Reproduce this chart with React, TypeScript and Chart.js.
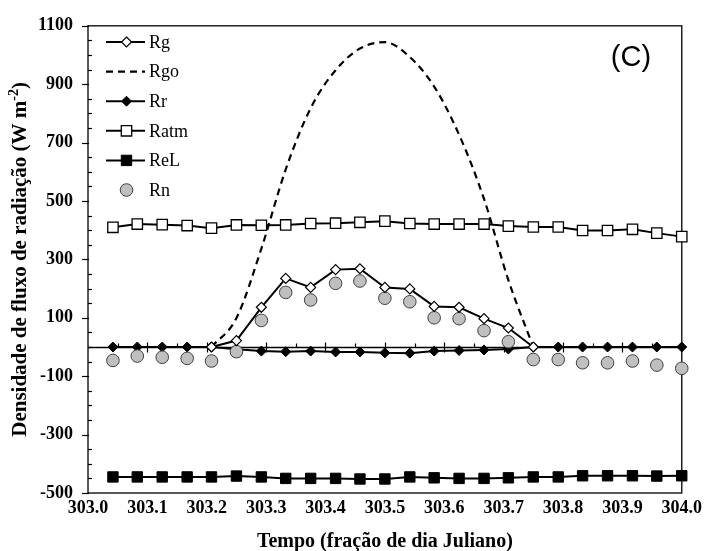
import { useEffect, useRef } from 'react';
import { Chart, registerables } from 'chart.js';

Chart.register(...registerables);

const times = [
  303.042, 303.083, 303.125, 303.167, 303.208, 303.25, 303.292, 303.333,
  303.375, 303.417, 303.458, 303.5, 303.542, 303.583, 303.625, 303.667,
  303.708, 303.75, 303.792, 303.833, 303.875, 303.917, 303.958, 304.0,
];

const Rg = [null, null, null, null, 0, 22, 136, 235, 204, 265, 268, 204, 199, 139, 136, 97, 65, 0, null, null, null, null, null, null];
const Rgo = [null, null, null, null, 0, 99, 337, 608, 818, 948, 1022, 1044, 993, 892, 727, 507, 229, 0, null, null, null, null, null, null];
const Rr = [0, 0, 0, 0, 0, -8, -14, -16, -14, -17, -17, -20, -21, -14, -12, -10, -7, 0, 0, 0, 0, 0, 0, 0];
const Ratm = [410, 421, 419, 416, 407, 418, 417, 418, 423, 424, 427, 431, 423, 421, 421, 421, 414, 411, 411, 399, 399, 403, 390, 378];
const ReL = [-445, -445, -445, -445, -445, -442, -445, -450, -450, -450, -452, -452, -445, -448, -450, -450, -448, -445, -445, -441, -441, -441, -442, -441];
const Rn = [-46, -31, -35, -39, -48, -16, 91, 187, 161, 218, 226, 167, 155, 100, 97, 56, 18, -43, -43, -54, -54, -48, -62, -73];

const seriesNames = ['Rg', 'Rgo', 'Rr', 'Ratm', 'ReL', 'Rn'];
const yTickLabels = [-500, -300, -100, 100, 300, 500, 700, 900, 1100];
const xTitle = 'Tempo (fração de dia Juliano)';
const yTitleMain = 'Densidade de fluxo de radiação (W m';
const yTitleSup = '-2';
const yTitleEnd = ')';
const panelLabel = '(C)';

const SERIF = '"Liberation Serif", "Times New Roman", serif';
const SANS = '"Liberation Sans", Arial, sans-serif';

const pts = (arr: (number | null)[]) => times.map((t, i) => ({ x: t, y: arr[i] }));

type Mk = { style: string; r: number; fill: string; stroke: string; bw: number; line: boolean; dash?: number[] };
const markers: Record<string, Mk> = {
  Rg: { style: 'diamond', r: 5, fill: '#fff', stroke: '#000', bw: 1.2, line: true },
  Rgo: { style: 'none', r: 0, fill: '#000', stroke: '#000', bw: 0, line: true, dash: [7, 5] },
  Rr: { style: 'diamond', r: 5, fill: '#000', stroke: '#000', bw: 1, line: true },
  Ratm: { style: 'square', r: 5.2, fill: '#fff', stroke: '#000', bw: 1.3, line: true },
  ReL: { style: 'square', r: 5.2, fill: '#000', stroke: '#000', bw: 1, line: true },
  Rn: { style: 'circle', r: 6.3, fill: '#bfbfbf', stroke: '#404040', bw: 1, line: false },
};

function drawMarker(ctx: CanvasRenderingContext2D, m: Mk, x: number, y: number) {
  if (m.style === 'none') return;
  ctx.save();
  ctx.beginPath();
  if (m.style === 'diamond') {
    ctx.moveTo(x, y - m.r);
    ctx.lineTo(x + m.r, y);
    ctx.lineTo(x, y + m.r);
    ctx.lineTo(x - m.r, y);
    ctx.closePath();
  } else if (m.style === 'square') {
    ctx.rect(x - m.r, y - m.r, 2 * m.r, 2 * m.r);
  } else {
    ctx.arc(x, y, m.r, 0, Math.PI * 2);
  }
  ctx.fillStyle = m.fill;
  ctx.fill();
  ctx.lineWidth = m.bw;
  ctx.strokeStyle = m.stroke;
  ctx.stroke();
  ctx.restore();
}

const decorPlugin = {
  id: 'decor',
  beforeDatasetsDraw(chart: any) {
    const { ctx, chartArea: a, scales } = chart;
    const y = scales.y;
    const x = scales.x;
    ctx.save();
    ctx.strokeStyle = '#222';
    ctx.lineWidth = 1.5;
    ctx.strokeRect(a.left, a.top, a.right - a.left, a.bottom - a.top);
    ctx.lineWidth = 1.2;
    ctx.strokeStyle = '#000';
    for (let v = -500; v <= 1100; v += 50) {
      const py = Math.round(y.getPixelForValue(v)) + 0.5;
      const major = (v + 500) % 200 === 0;
      ctx.beginPath();
      if (major) {
        ctx.moveTo(a.left - 6, py);
        ctx.lineTo(a.left + 1, py);
      } else {
        ctx.moveTo(a.left, py);
        ctx.lineTo(a.left + 4, py);
      }
      ctx.stroke();
    }
    const y0 = Math.round(y.getPixelForValue(0)) + 0.5;
    ctx.lineWidth = 1.5;
    ctx.beginPath();
    ctx.moveTo(a.left, y0);
    ctx.lineTo(a.right, y0);
    ctx.stroke();
    ctx.lineWidth = 1.2;
    for (let k = 1; k < 20; k++) {
      const px = Math.round(x.getPixelForValue(303 + k * 0.05)) + 0.5;
      ctx.beginPath();
      if (k % 2 === 0) {
        ctx.moveTo(px, y0 - 5);
        ctx.lineTo(px, y0 + 5);
      } else {
        ctx.moveTo(px, y0 - 4);
        ctx.lineTo(px, y0);
      }
      ctx.stroke();
    }
    ctx.restore();
  },
  afterDraw(chart: any) {
    const { ctx, chartArea: a } = chart;
    ctx.save();
    const lx0 = 106, lx1 = 145, mx = 126.5, tx = 149;
    seriesNames.forEach((name, i) => {
      const m = markers[name];
      const ly = 42 + i * 29.6;
      if (m.line) {
        ctx.save();
        ctx.strokeStyle = '#000';
        ctx.lineWidth = name === 'Rgo' ? 2.2 : 2;
        if (m.dash) ctx.setLineDash(m.dash);
        ctx.beginPath();
        ctx.moveTo(lx0, ly);
        ctx.lineTo(lx1, ly);
        ctx.stroke();
        ctx.restore();
      }
      drawMarker(ctx, m, mx, ly);
      ctx.fillStyle = '#000';
      ctx.font = `18px ${SERIF}`;
      ctx.textAlign = 'left';
      ctx.textBaseline = 'middle';
      ctx.fillText(name, tx, ly + 1);
    });
    ctx.font = `29px ${SANS}`;
    ctx.textAlign = 'center';
    ctx.textBaseline = 'middle';
    ctx.fillText(panelLabel, 631, 58);
    ctx.font = `bold 20px ${SERIF}`;
    ctx.fillText(xTitle, (a.left + a.right) / 2, 542);
    ctx.translate(21, (a.top + a.bottom) / 2);
    ctx.rotate(-Math.PI / 2);
    ctx.textAlign = 'left';
    const mainFont = `bold 21px ${SERIF}`;
    const supFont = `bold 14px ${SERIF}`;
    ctx.font = mainFont;
    const w1 = ctx.measureText(yTitleMain).width;
    const w3 = ctx.measureText(yTitleEnd).width;
    ctx.font = supFont;
    const w2 = ctx.measureText(yTitleSup).width;
    let sx = -(w1 + w2 + w3) / 2;
    ctx.font = mainFont;
    ctx.fillText(yTitleMain, sx, 0);
    sx += w1;
    ctx.font = supFont;
    ctx.fillText(yTitleSup, sx, -7);
    sx += w2;
    ctx.font = mainFont;
    ctx.fillText(yTitleEnd, sx, 0);
    ctx.restore();
  },
};

const ds = (name: string, arr: (number | null)[], order: number, extra: any = {}) => {
  const m = markers[name];
  const styleMap: Record<string, string> = { diamond: 'rectRot', square: 'rect', circle: 'circle', none: 'circle' };
  return {
    label: name,
    data: pts(arr),
    order,
    borderColor: '#000',
    borderWidth: m.line ? 2 : 0,
    showLine: m.line,
    pointStyle: styleMap[m.style],
    pointRadius: m.style === 'square' ? m.r * Math.SQRT2 : m.r,
    pointHoverRadius: m.style === 'square' ? m.r * Math.SQRT2 : m.r,
    pointBackgroundColor: m.fill,
    pointBorderColor: m.stroke,
    pointBorderWidth: m.bw,
    backgroundColor: m.fill,
    spanGaps: false,
    clip: false,
    tension: 0,
    ...extra,
  };
};

export default function App() {
  const ref = useRef<HTMLCanvasElement>(null);
  useEffect(() => {
    const canvas = ref.current!;
    const tickFont = { family: SERIF, size: 18, weight: 'bold' as const };
    const chart = new Chart(canvas, {
      type: 'scatter',
      data: {
        datasets: [
          ds('Rg', Rg, 0),
          ds('Rgo', Rgo, 1, { borderDash: [7, 5], borderWidth: 2.2, pointRadius: 0, pointHoverRadius: 0, cubicInterpolationMode: 'monotone' }),
          ds('Rr', Rr, 3),
          ds('Rn', Rn, 2),
          ds('Ratm', Ratm, 4),
          ds('ReL', ReL, 5),
        ] as any,
      },
      options: {
        responsive: false,
        animation: false,
        devicePixelRatio: 1,
        layout: { padding: { left: 0, right: 23, top: 22, bottom: 0 } },
        plugins: { legend: { display: false }, tooltip: { enabled: false } },
        events: [],
        scales: {
          x: {
            type: 'linear',
            min: 303,
            max: 304,
            ticks: {
              stepSize: 0.1,
              autoSkip: false,
              maxRotation: 0,
              padding: 5,
              color: '#000',
              font: tickFont,
              callback: (v: any) => Number(v).toFixed(1),
            },
            grid: { display: false, drawTicks: false },
            border: { display: false },
            afterFit: (s: any) => { s.height = 58; },
          },
          y: {
            type: 'linear',
            min: -500,
            max: 1100,
            afterBuildTicks: (s: any) => { s.ticks = yTickLabels.map((v) => ({ value: v })); },
            ticks: {
              padding: 15,
              color: '#000',
              font: tickFont,
              callback: (v: any) => String(v),
            },
            grid: { display: false, drawTicks: false },
            border: { display: false },
            afterFit: (s: any) => { s.width = 88; },
          },
        },
      } as any,
      plugins: [decorPlugin],
    });
    return () => chart.destroy();
  }, []);
  return (
    <div style={{ position: 'fixed', left: 0, top: 0, width: 707, height: 551, background: '#fff' }}>
      <canvas ref={ref} width={707} height={551} style={{ display: 'block', width: 707, height: 551 }} />
    </div>
  );
}
